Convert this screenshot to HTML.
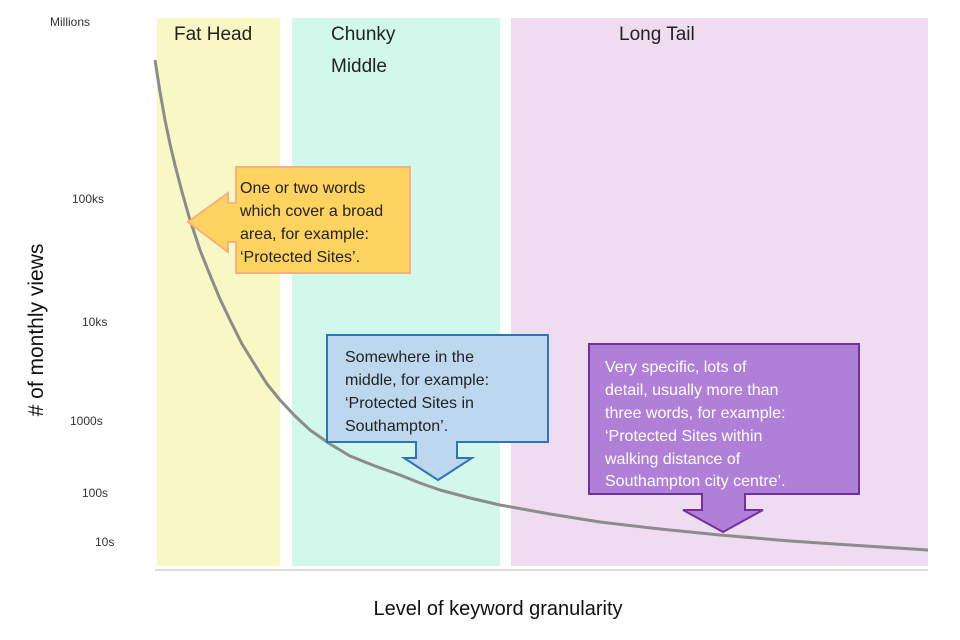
<!DOCTYPE html>
<html><head><meta charset="utf-8"><style>
html,body{margin:0;padding:0;background:#fff;}
svg{display:block;font-family:"Liberation Sans",sans-serif;}
</style></head><body>
<svg width="960" height="640" viewBox="0 0 960 640" xmlns="http://www.w3.org/2000/svg">
<rect x="157" y="18" width="123" height="548" fill="#f8f8c4"/>
<rect x="292" y="18" width="208" height="548" fill="#d2f8ec"/>
<rect x="511" y="18" width="417" height="548" fill="#f0dcf0"/>
<line x1="155" y1="570" x2="928" y2="570" stroke="#d0d0d0" stroke-width="1.5"/>
<g font-size="19" fill="#222">
<text x="174" y="40">Fat Head</text>
<text x="331" y="40">Chunky</text>
<text x="331" y="72">Middle</text>
<text x="619" y="40">Long Tail</text>
</g>
<g font-size="12" fill="#333">
<text x="50" y="26">Millions</text>
<text x="72" y="203">100ks</text>
<text x="82" y="326">10ks</text>
<text x="70" y="425">1000s</text>
<text x="82" y="497">100s</text>
<text x="95" y="546">10s</text>
</g>
<text transform="translate(43,330) rotate(-90)" text-anchor="middle" font-size="21" fill="#111"># of monthly views</text>
<text x="498" y="615" text-anchor="middle" font-size="20" fill="#111">Level of keyword granularity</text>
<polyline points="155,60 160,92 165,120 170,144 175,165 182,192 190,220 200,250 210,275 220,299 230,320 242,344 255,365 267,384 280,400 295,416 310,430 330,444 350,456 375,466 400,475 420,483 440,490 470,498 500,505 550,514 600,522 660,529 720,535 790,541 850,545 928,550" fill="none" stroke="#8c8c8c" stroke-width="3" stroke-linejoin="round"/>
<!-- orange callout -->
<path d="M236,203 L228,203 L228,193 L188,222 L228,252 L228,242 L236,242 Z" fill="#fdd35f" stroke="#f4b183" stroke-width="2"/>
<rect x="236" y="167" width="174" height="106" fill="#fdd35f" stroke="#f4b183" stroke-width="2"/>
<rect x="234" y="204" width="4" height="37" fill="#fdd35f"/>
<g font-size="16" fill="#222">
<text x="240" y="193">One or two words</text>
<text x="240" y="216">which cover a broad</text>
<text x="240" y="239">area, for example:</text>
<text x="240" y="262">‘Protected Sites’.</text>
</g>
<!-- blue callout -->
<path d="M327,335 H548 V442 H457 V458 H472 L438,480 L404,458 H416 V442 H327 Z" fill="#bdd7ee" stroke="#2e75b6" stroke-width="2"/>
<g font-size="16" fill="#222">
<text x="345" y="362">Somewhere in the</text>
<text x="345" y="385">middle, for example:</text>
<text x="345" y="408">‘Protected Sites in</text>
<text x="345" y="431">Southampton’.</text>
</g>
<!-- purple callout -->
<path d="M589,344 H859 V494 H745 V510 H763 L723,532 L683,510 H702 V494 H589 Z" fill="#b07fd8" stroke="#7030a0" stroke-width="2"/>
<g font-size="16" fill="#fff">
<text x="605" y="372">Very specific, lots of</text>
<text x="605" y="395">detail, usually more than</text>
<text x="605" y="418">three words, for example:</text>
<text x="605" y="441">‘Protected Sites within</text>
<text x="605" y="464">walking distance of</text>
<text x="605" y="486">Southampton city centre’.</text>
</g>
</svg>
</body></html>
